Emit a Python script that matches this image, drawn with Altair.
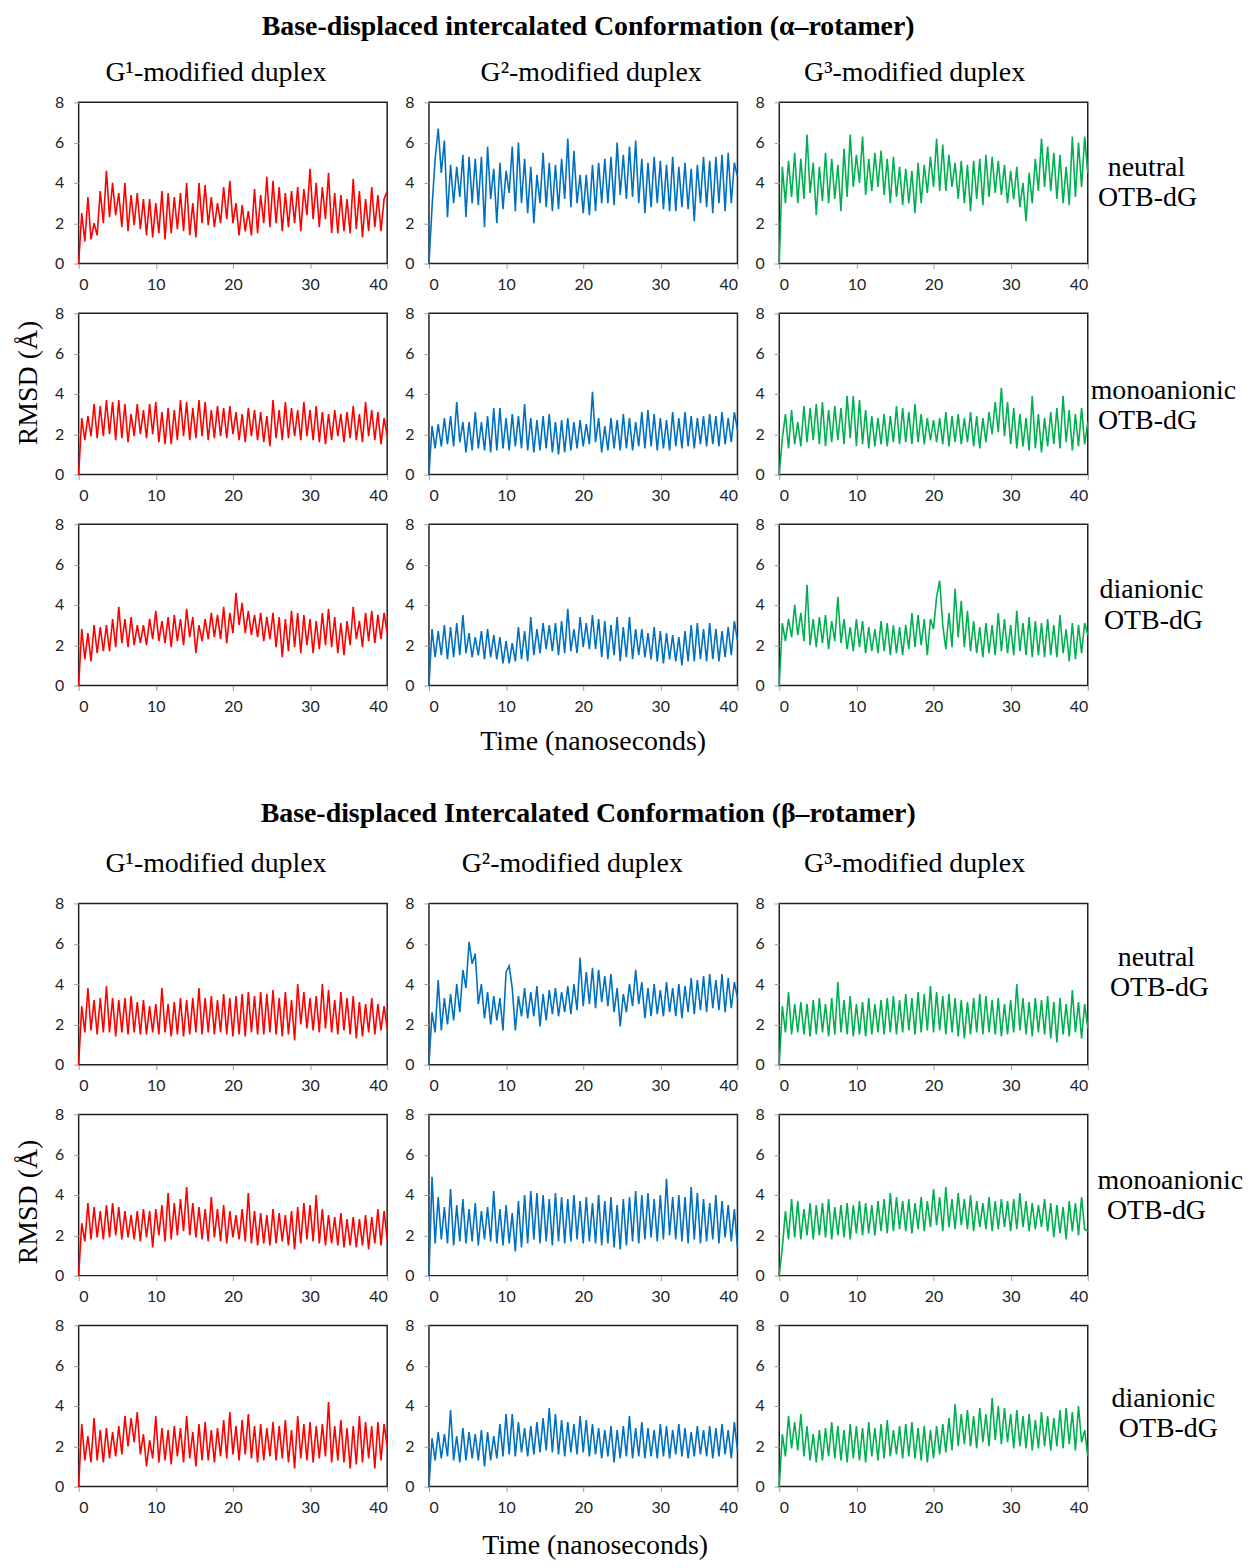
import altair as alt
import pandas as pd

TIME_STEP = 0.4  # ns between read-off samples

# ---------- alpha-rotamer (top block) ----------
A_G1_NEUTRAL = [0,
 2.5, 1.1, 3.3, 1.2, 2.0, 1.4, 3.6, 2.0, 4.6, 2.3,
 4.0, 2.4, 3.5, 1.8, 4.0, 1.6, 3.4, 1.9, 3.5, 1.7,
 3.2, 1.4, 3.2, 1.3, 3.0, 1.5, 3.6, 1.2, 3.5, 1.5,
 3.3, 1.7, 3.5, 1.6, 4.0, 1.4, 3.0, 1.3, 4.0, 2.0,
 3.9, 1.9, 3.3, 1.8, 3.0, 2.0, 3.8, 2.2, 4.1, 2.0,
 3.0, 1.4, 2.9, 1.6, 2.6, 1.4, 3.7, 1.5, 3.4, 2.0,
 4.3, 1.8, 4.1, 2.0, 3.8, 1.6, 3.5, 1.8, 3.6, 2.0,
 3.8, 1.6, 3.7, 2.4, 4.7, 2.2, 4.0, 1.8, 3.8, 2.2,
 4.5, 1.5, 3.5, 1.5, 3.4, 1.6, 3.2, 1.5, 4.2, 1.7,
 3.6, 1.3, 3.2, 1.6, 3.8, 1.8, 3.4, 1.6, 3.2, 3.6]
A_G2_NEUTRAL = [0,
 2.8, 5.2, 6.7, 4.5, 6.1, 2.3, 4.9, 3.0, 4.8, 3.3,
 5.4, 2.3, 5.3, 3.0, 5.2, 2.9, 5.3, 1.8, 5.8, 3.2,
 4.7, 2.0, 5.0, 2.7, 4.6, 3.5, 5.8, 2.6, 6.0, 3.0,
 5.2, 2.5, 4.8, 2.0, 4.4, 3.0, 5.5, 2.8, 5.0, 2.6,
 4.9, 2.7, 5.2, 3.2, 6.2, 2.8, 5.6, 3.0, 4.4, 2.5,
 4.4, 2.4, 4.9, 2.6, 5.0, 3.0, 5.2, 3.0, 5.3, 2.9,
 6.0, 3.4, 5.4, 3.2, 5.8, 3.3, 6.1, 3.0, 5.2, 2.5,
 5.0, 2.8, 5.3, 3.0, 5.1, 2.7, 4.9, 2.6, 5.3, 2.6,
 4.8, 2.8, 5.0, 2.7, 4.7, 2.1, 4.9, 3.0, 5.3, 2.8,
 5.1, 2.5, 5.3, 3.0, 5.4, 2.6, 5.5, 3.0, 5.0, 4.3]
A_G3_NEUTRAL = [0,
 4.8, 3.0, 5.1, 3.3, 5.5, 3.0, 5.2, 3.2, 6.4, 3.5,
 5.0, 2.4, 4.8, 3.1, 5.5, 3.0, 5.2, 3.2, 4.9, 2.6,
 5.7, 3.3, 6.4, 3.8, 5.4, 4.0, 6.3, 3.4, 5.2, 3.6,
 5.5, 3.8, 5.6, 3.4, 5.2, 3.0, 5.3, 3.3, 4.8, 2.9,
 4.7, 3.0, 4.6, 2.5, 5.0, 3.0, 4.9, 3.5, 5.3, 3.8,
 6.2, 3.6, 5.9, 3.6, 5.4, 3.8, 5.0, 3.2, 5.1, 3.0,
 4.9, 2.6, 5.1, 3.2, 5.2, 2.9, 5.4, 3.3, 5.3, 3.5,
 5.1, 3.4, 4.9, 3.0, 4.6, 3.2, 4.8, 2.8, 4.0, 2.1,
 4.5, 3.0, 5.2, 3.6, 6.2, 3.8, 5.8, 3.6, 5.5, 3.2,
 5.4, 3.0, 4.8, 2.9, 6.3, 3.3, 6.0, 3.8, 6.3, 4.5]
A_G1_MONO = [0,
 2.8, 1.7, 2.9, 1.9, 3.5, 1.8, 3.4, 1.9, 3.7, 2.0,
 3.6, 1.7, 3.7, 1.8, 3.5, 1.6, 3.0, 1.9, 3.5, 2.0,
 3.2, 1.8, 3.5, 2.0, 3.6, 1.6, 3.1, 1.5, 3.3, 1.5,
 3.2, 1.7, 3.7, 1.9, 3.6, 1.7, 3.3, 1.8, 3.7, 1.9,
 3.6, 1.7, 3.2, 1.8, 3.4, 1.9, 3.3, 1.8, 3.4, 2.0,
 3.1, 1.7, 3.0, 1.6, 3.3, 1.9, 3.2, 1.7, 3.1, 1.6,
 2.9, 1.4, 3.7, 1.8, 3.2, 1.7, 3.6, 1.8, 3.3, 1.9,
 3.2, 1.7, 3.6, 1.9, 3.2, 1.7, 3.4, 1.6, 3.1, 1.5,
 3.0, 1.7, 3.2, 1.9, 3.0, 1.6, 3.1, 1.8, 3.4, 1.7,
 3.0, 1.6, 3.6, 1.9, 3.2, 1.7, 3.1, 1.5, 2.8, 1.9]
A_G2_MONO = [0,
 2.4, 1.3, 2.5, 1.4, 2.8, 1.5, 2.9, 1.4, 3.6, 1.6,
 2.6, 1.1, 2.6, 1.2, 3.1, 1.3, 2.6, 1.2, 2.9, 1.1,
 3.3, 1.2, 3.3, 1.3, 2.8, 1.2, 3.0, 1.4, 2.9, 1.3,
 3.5, 1.2, 2.8, 1.1, 2.7, 1.2, 2.9, 1.3, 3.0, 1.1,
 2.6, 1.0, 2.7, 1.1, 2.8, 1.2, 2.6, 1.3, 2.7, 1.4,
 2.5, 1.5, 4.1, 1.6, 2.8, 1.1, 2.4, 1.2, 2.8, 1.3,
 2.7, 1.2, 3.0, 1.3, 2.8, 1.2, 2.6, 1.4, 3.1, 1.3,
 3.2, 1.4, 3.0, 1.2, 2.8, 1.3, 2.7, 1.2, 3.1, 1.4,
 2.8, 1.3, 3.1, 1.4, 2.9, 1.3, 2.8, 1.5, 2.9, 1.4,
 3.0, 1.5, 2.9, 1.4, 3.1, 1.5, 2.8, 1.6, 3.1, 2.2]
A_G3_MONO = [0,
 1.8, 3.0, 1.3, 3.2, 1.5, 2.6, 1.4, 3.4, 1.6, 3.3,
 1.7, 3.5, 1.5, 3.6, 1.4, 3.2, 1.6, 3.4, 1.7, 3.3,
 1.5, 3.9, 1.8, 3.9, 1.4, 3.7, 1.5, 3.2, 1.3, 2.9,
 1.4, 2.8, 1.5, 3.0, 1.4, 2.9, 1.6, 3.4, 1.5, 3.3,
 1.6, 3.1, 1.5, 3.5, 1.6, 3.0, 1.5, 2.8, 1.7, 2.7,
 1.6, 2.8, 1.5, 3.1, 1.4, 2.9, 1.6, 3.0, 1.5, 2.8,
 1.6, 3.1, 1.4, 2.9, 1.3, 2.8, 1.6, 3.1, 2.0, 3.6,
 2.1, 4.3, 1.9, 3.6, 1.5, 3.3, 1.3, 3.0, 1.4, 2.8,
 1.2, 3.9, 1.3, 3.0, 1.1, 2.8, 1.4, 3.1, 1.5, 3.3,
 1.3, 3.9, 1.6, 3.2, 1.2, 3.0, 1.4, 3.3, 1.5, 2.6]
A_G1_DI = [0,
 2.8, 1.3, 2.6, 1.2, 3.0, 1.6, 2.9, 1.7, 3.0, 1.7,
 3.3, 1.9, 3.9, 2.1, 3.3, 1.9, 3.4, 2.0, 3.0, 2.1,
 3.0, 2.0, 3.3, 2.3, 3.7, 2.2, 3.2, 2.1, 3.4, 1.9,
 3.5, 2.2, 3.3, 2.0, 3.8, 2.4, 3.4, 1.6, 3.0, 2.2,
 3.3, 2.3, 3.6, 2.4, 3.5, 2.3, 3.9, 2.1, 3.6, 2.6,
 4.6, 3.0, 4.1, 2.6, 3.7, 2.5, 3.5, 2.4, 3.6, 2.2,
 3.4, 2.3, 3.6, 1.9, 3.4, 1.4, 3.3, 1.7, 3.7, 1.9,
 3.6, 1.6, 3.5, 2.0, 3.3, 1.6, 3.2, 1.8, 3.6, 2.0,
 3.8, 1.9, 3.4, 1.6, 3.1, 1.5, 3.2, 2.0, 3.9, 2.3,
 3.2, 1.9, 3.6, 2.2, 3.7, 2.1, 3.5, 2.3, 3.6, 2.6]
A_G2_DI = [0,
 2.8, 1.4, 2.7, 1.5, 3.0, 1.3, 2.9, 1.4, 3.1, 1.5,
 3.5, 1.6, 2.6, 1.4, 2.4, 1.5, 2.7, 1.3, 2.8, 1.4,
 2.5, 1.3, 2.4, 1.1, 2.2, 1.1, 2.1, 1.2, 2.9, 1.3,
 2.7, 1.2, 3.4, 1.5, 2.8, 1.6, 3.1, 1.8, 3.0, 1.7,
 3.1, 1.5, 3.2, 1.6, 3.8, 1.7, 2.8, 1.6, 3.4, 1.9,
 3.1, 1.8, 3.5, 1.8, 3.3, 1.4, 3.2, 1.3, 3.0, 1.5,
 3.4, 1.2, 2.9, 1.4, 3.4, 1.3, 2.8, 1.5, 2.8, 1.4,
 2.6, 1.3, 2.9, 1.2, 2.7, 1.1, 2.6, 1.3, 2.5, 1.2,
 2.4, 1.0, 2.7, 1.2, 3.0, 1.2, 3.1, 1.3, 2.8, 1.2,
 3.1, 1.3, 2.8, 1.2, 2.7, 1.4, 2.9, 1.5, 3.2, 2.2]
A_G3_DI = [0,
 3.1, 2.2, 3.3, 2.4, 4.0, 2.5, 3.6, 2.2, 5.0, 2.0,
 3.3, 1.9, 3.4, 2.1, 3.5, 1.8, 3.2, 2.2, 4.4, 2.1,
 3.3, 1.8, 2.9, 1.7, 3.3, 1.9, 3.2, 1.6, 2.9, 1.7,
 2.8, 1.6, 3.2, 1.7, 3.1, 1.5, 3.0, 1.6, 2.9, 1.5,
 3.0, 1.8, 3.6, 1.9, 3.5, 2.0, 3.3, 1.5, 3.3, 2.8,
 4.4, 5.2, 3.0, 1.8, 3.6, 1.9, 4.8, 2.4, 4.2, 1.9,
 3.7, 1.7, 3.2, 1.6, 2.9, 1.4, 3.1, 1.6, 3.0, 1.5,
 3.6, 1.7, 3.3, 1.6, 3.0, 1.5, 3.7, 1.7, 3.1, 1.5,
 3.4, 1.4, 3.2, 1.5, 3.1, 1.4, 3.3, 1.5, 3.0, 1.4,
 3.5, 1.6, 2.8, 1.2, 3.1, 1.3, 3.0, 1.6, 3.1, 2.5]

# ---------- beta-rotamer (bottom block) ----------
B_G1_NEUTRAL = [0,
 2.9, 1.6, 3.8, 1.7, 3.2, 1.5, 3.3, 1.6, 3.9, 1.6,
 3.3, 1.4, 3.2, 1.6, 3.3, 1.5, 3.4, 1.6, 3.1, 1.5,
 3.2, 1.5, 2.9, 1.6, 3.0, 1.5, 3.8, 1.6, 3.0, 1.4,
 3.1, 1.5, 3.3, 1.4, 3.2, 1.5, 3.3, 1.6, 3.8, 1.5,
 3.3, 1.6, 3.4, 1.5, 3.2, 1.6, 3.5, 1.5, 3.3, 1.4,
 3.4, 1.5, 3.5, 1.4, 3.6, 1.6, 3.4, 1.5, 3.6, 1.5,
 3.5, 1.6, 3.7, 1.5, 3.3, 1.4, 3.6, 1.5, 3.2, 1.2,
 4.0, 2.0, 3.6, 1.8, 3.3, 1.7, 3.4, 1.6, 4.0, 1.8,
 3.7, 1.6, 3.2, 1.5, 3.6, 1.7, 3.3, 1.5, 3.4, 1.3,
 3.1, 1.4, 3.0, 1.6, 3.3, 1.5, 3.0, 1.7, 2.9, 1.8]
B_G2_NEUTRAL = [0,
 2.6, 1.6, 4.2, 1.7, 3.3, 2.0, 3.5, 2.2, 4.0, 2.6,
 4.7, 3.8, 6.1, 5.0, 5.5, 3.0, 4.0, 2.3, 3.6, 2.0,
 3.4, 2.2, 3.3, 1.7, 4.6, 4.9, 3.8, 1.7, 3.4, 2.4,
 3.8, 2.3, 3.6, 2.4, 3.9, 1.9, 3.5, 2.2, 3.7, 2.5,
 3.8, 2.4, 3.6, 2.6, 3.9, 2.5, 4.0, 2.7, 5.3, 2.9,
 4.6, 3.0, 4.8, 2.8, 4.7, 3.1, 4.4, 2.9, 4.5, 2.6,
 3.8, 1.9, 3.5, 2.6, 4.0, 2.9, 4.7, 3.0, 4.1, 2.3,
 3.8, 2.4, 4.0, 2.5, 3.7, 2.4, 4.1, 2.6, 3.8, 2.4,
 4.0, 2.3, 3.9, 2.6, 4.3, 2.5, 4.2, 2.7, 4.4, 2.6,
 4.5, 2.8, 4.2, 2.7, 4.5, 2.6, 4.3, 2.8, 4.1, 3.3]
B_G3_NEUTRAL = [0,
 2.9, 1.6, 3.6, 1.5, 3.0, 1.6, 3.1, 1.5, 3.0, 1.4,
 3.2, 1.5, 3.3, 1.6, 3.0, 1.4, 3.3, 1.5, 4.1, 1.6,
 3.2, 1.5, 3.4, 1.4, 3.0, 1.5, 3.1, 1.4, 3.3, 1.5,
 3.0, 1.6, 3.2, 1.5, 3.3, 1.6, 3.4, 1.5, 3.2, 1.6,
 3.5, 1.7, 3.3, 1.5, 3.6, 1.6, 3.5, 1.7, 3.9, 1.6,
 3.6, 1.7, 3.4, 1.5, 3.5, 1.6, 3.3, 1.4, 3.2, 1.3,
 3.1, 1.5, 3.3, 1.6, 3.5, 1.5, 3.4, 1.6, 3.2, 1.5,
 3.3, 1.4, 3.0, 1.5, 3.2, 1.6, 4.0, 1.7, 3.3, 1.5,
 3.1, 1.4, 3.3, 1.6, 3.2, 1.5, 3.4, 1.3, 3.1, 1.1,
 3.3, 1.5, 3.0, 1.4, 3.7, 1.6, 3.1, 1.3, 3.0, 1.8]
B_G1_MONO = [0,
 2.6, 1.7, 3.6, 1.8, 3.4, 1.9, 3.2, 1.8, 3.5, 1.9,
 3.6, 2.0, 3.4, 1.8, 3.2, 1.9, 3.0, 1.8, 3.2, 1.7,
 3.3, 1.9, 3.2, 1.4, 3.3, 2.0, 3.5, 1.7, 4.1, 1.8,
 3.6, 2.0, 3.8, 2.2, 4.4, 2.0, 3.6, 1.9, 3.4, 1.8,
 3.3, 1.7, 3.9, 1.9, 3.3, 1.7, 3.5, 1.6, 3.2, 1.9,
 3.0, 1.8, 3.3, 1.7, 4.1, 1.6, 3.2, 1.5, 3.1, 1.6,
 3.0, 1.5, 3.3, 1.6, 3.1, 1.7, 3.0, 1.5, 3.2, 1.3,
 3.4, 1.6, 3.6, 1.8, 3.5, 1.7, 4.0, 1.6, 3.3, 1.5,
 3.0, 1.6, 2.9, 1.5, 3.1, 1.4, 2.8, 1.5, 2.9, 1.4,
 2.8, 1.5, 3.0, 1.3, 2.9, 1.6, 3.3, 1.5, 3.2, 1.8]
B_G2_MONO = [0,
 4.9, 1.6, 3.9, 1.8, 3.4, 1.6, 4.3, 1.5, 3.5, 1.7,
 3.8, 1.6, 3.3, 1.7, 3.6, 1.5, 3.2, 1.8, 3.4, 1.7,
 4.2, 1.6, 3.3, 1.5, 3.5, 1.6, 3.1, 1.2, 3.7, 1.4,
 4.0, 1.6, 4.2, 1.8, 4.1, 1.6, 4.0, 1.7, 3.8, 1.5,
 4.1, 1.7, 3.9, 1.6, 3.8, 1.7, 4.0, 1.8, 3.7, 1.6,
 3.9, 1.7, 3.6, 1.6, 4.0, 1.5, 3.7, 1.6, 3.9, 1.4,
 3.5, 1.3, 3.8, 1.5, 3.9, 1.7, 4.2, 1.6, 4.0, 1.8,
 4.1, 1.9, 3.8, 1.7, 4.0, 1.8, 4.8, 2.0, 3.9, 1.8,
 4.0, 1.7, 3.9, 1.6, 4.4, 1.8, 4.1, 1.6, 3.8, 1.7,
 3.6, 1.8, 4.0, 1.6, 3.7, 1.9, 3.5, 1.7, 3.3, 1.4]
B_G3_MONO = [0,
 1.4, 3.2, 1.8, 3.8, 1.9, 3.7, 1.8, 3.3, 2.0, 3.6,
 1.8, 3.5, 2.0, 3.6, 1.9, 3.8, 1.8, 3.4, 2.0, 3.5,
 1.9, 3.6, 1.8, 3.5, 2.1, 3.7, 2.0, 3.6, 2.1, 3.5,
 2.0, 3.7, 2.2, 3.8, 2.1, 4.1, 2.2, 3.9, 2.3, 3.7,
 2.2, 3.8, 2.1, 3.6, 2.3, 3.9, 2.2, 3.7, 2.4, 4.3,
 2.5, 3.9, 2.2, 4.4, 2.4, 3.8, 2.3, 4.1, 2.5, 3.8,
 2.3, 4.0, 2.2, 3.7, 2.4, 3.6, 2.3, 3.9, 2.2, 3.7,
 2.3, 3.8, 2.4, 3.7, 2.2, 3.8, 2.3, 4.1, 2.4, 3.7,
 2.2, 3.6, 2.3, 3.5, 2.4, 3.8, 2.2, 3.6, 1.9, 3.5,
 2.1, 3.4, 1.8, 3.7, 2.2, 3.6, 2.0, 3.9, 2.3, 2.2]
B_G1_DI = [0,
 3.1, 1.3, 2.5, 1.2, 3.4, 1.3, 2.8, 1.2, 2.9, 1.4,
 2.7, 1.5, 3.0, 1.6, 3.5, 2.0, 3.4, 2.2, 3.7, 1.6,
 2.6, 1.0, 2.3, 1.4, 3.5, 1.2, 2.9, 1.3, 2.8, 1.1,
 3.0, 1.5, 2.9, 1.2, 3.5, 1.4, 2.7, 1.0, 3.1, 1.3,
 3.2, 1.3, 2.8, 1.2, 2.9, 1.5, 3.3, 1.4, 3.7, 1.6,
 3.0, 1.3, 3.3, 1.6, 3.6, 1.4, 3.0, 1.2, 3.1, 1.3,
 2.9, 1.5, 3.2, 1.3, 3.0, 1.4, 3.3, 1.2, 2.8, 0.9,
 3.5, 1.4, 3.1, 1.3, 3.2, 1.2, 3.0, 1.4, 3.1, 1.5,
 4.2, 1.2, 3.0, 1.3, 3.3, 1.2, 2.9, 0.9, 3.0, 1.1,
 3.5, 1.2, 3.2, 1.4, 3.0, 0.9, 3.2, 1.3, 3.1, 2.0]
B_G2_DI = [0,
 2.4, 1.3, 2.7, 1.4, 2.6, 1.5, 3.8, 1.3, 2.5, 1.2,
 2.9, 1.3, 2.7, 1.4, 2.6, 1.3, 2.8, 1.0, 2.7, 1.3,
 2.5, 1.4, 3.1, 1.5, 3.6, 1.6, 3.6, 1.5, 3.2, 1.7,
 2.9, 1.5, 3.0, 1.6, 3.2, 1.7, 3.4, 1.8, 3.9, 1.7,
 3.6, 1.6, 3.3, 1.5, 3.2, 1.7, 3.1, 1.6, 3.5, 1.7,
 3.3, 1.5, 3.1, 1.6, 2.9, 1.4, 2.8, 1.5, 3.0, 1.2,
 2.8, 1.4, 3.0, 1.5, 3.5, 1.4, 2.9, 1.5, 3.2, 1.4,
 2.9, 1.5, 2.8, 1.4, 3.1, 1.5, 3.0, 1.4, 2.8, 1.6,
 3.1, 1.5, 2.9, 1.4, 2.7, 1.5, 3.0, 1.6, 2.8, 1.5,
 3.0, 1.4, 2.9, 1.5, 3.1, 1.6, 2.8, 1.4, 3.2, 1.8]
B_G3_DI = [0,
 2.6, 1.5, 3.5, 1.9, 3.2, 1.8, 3.6, 1.5, 3.0, 1.3,
 2.6, 1.2, 2.8, 1.3, 2.9, 1.5, 3.2, 1.4, 3.0, 1.3,
 2.8, 1.2, 3.1, 1.4, 3.0, 1.3, 2.9, 1.2, 3.2, 1.5,
 2.9, 1.3, 3.1, 1.4, 3.3, 1.5, 2.8, 1.6, 3.0, 1.4,
 3.1, 1.5, 3.2, 1.4, 2.9, 1.3, 3.0, 1.2, 2.8, 1.4,
 3.0, 1.6, 3.1, 1.7, 3.4, 1.8, 4.1, 2.0, 3.6, 2.1,
 3.8, 2.0, 3.5, 1.9, 3.9, 2.2, 3.6, 2.0, 4.4, 2.3,
 4.0, 2.1, 3.9, 2.2, 3.6, 1.9, 3.8, 2.0, 3.5, 1.9,
 3.6, 1.8, 3.3, 1.9, 3.7, 2.0, 3.5, 1.8, 3.4, 2.0,
 3.8, 1.9, 3.9, 2.1, 3.7, 1.8, 4.0, 2.2, 2.8, 1.5]

X_TICKS = [0, 10, 20, 30, 40]
Y_TICKS = [0, 2, 4, 6, 8]
COL_TITLES = ["G\u00b9-modified duplex", "G\u00b2-modified duplex", "G\u00b3-modified duplex"]
TITLE_A = "Base-displaced intercalated Conformation (\u03b1\u2013rotamer)"
TITLE_B = "Base-displaced Intercalated Conformation  (\u03b2\u2013rotamer)"
Y_TITLE = "RMSD (\u00c5)"
X_TITLE = "Time (nanoseconds)"

RED, BLUE, GREEN = "#FF0000", "#0070C0", "#00B050"
W, H = 310, 162
GAP_SECTIONS = 119  # spacer row height between the two blocks
SERIF = "Liberation Serif"
SANS = "Lato"
FS = 28


def text(s, x, y, size=FS, weight="normal", angle=0):
    return alt.Chart(pd.DataFrame({"s": [s]})).mark_text(
        font=SERIF, fontSize=size, fontWeight=weight, color="black",
        align="center", baseline="middle", angle=angle
    ).encode(text="s:N", x=alt.value(x), y=alt.value(y))


def panel(values, color, extras=()):
    df = pd.DataFrame({"time": [i * TIME_STEP for i in range(len(values))], "rmsd": values})
    line = alt.Chart(df).mark_line(color=color, strokeWidth=1.6).encode(
        x=alt.X("time:Q", scale=alt.Scale(domain=[0, 40], nice=False),
                axis=alt.Axis(values=X_TICKS, title=None, labelPadding=8)),
        y=alt.Y("rmsd:Q", scale=alt.Scale(domain=[0, 8], nice=False),
                axis=alt.Axis(values=Y_TICKS, title=None, labelPadding=10)),
    )
    return alt.layer(line, *extras).properties(width=W, height=H)


def spacer():
    return alt.Chart(pd.DataFrame({"s": [""]})).mark_text().encode(
        text="s:N", x=alt.value(0), y=alt.value(0)
    ).properties(width=W, height=GAP_SECTIONS,
                 view=alt.ViewBackground(strokeOpacity=0, fillOpacity=0))


def section(series, title, title_y, head_y, head_x, row_lbls, ytitle_y, xtitle_pos):
    colors = [RED, BLUE, GREEN]
    cells = []
    for r in range(3):
        for c in range(3):
            ex = []
            if r == 0:
                ex.append(text(COL_TITLES[c], head_x[c], head_y))
                if c == 1:
                    ex.append(text(title, 160, title_y, size=FS, weight="bold"))
            if c == 2:
                (l1, p1), (l2, p2) = row_lbls[r]
                ex.append(text(l1, p1[0], p1[1]))
                ex.append(text(l2, p2[0], p2[1]))
            if r == 1 and c == 0:
                ex.append(text(Y_TITLE, -50, ytitle_y, angle=270))
            if r == 2 and c == 1:
                ex.append(text(X_TITLE, xtitle_pos[0], xtitle_pos[1]))
            cells.append(panel(series[r][c], colors[c], ex))
    return cells


cells_a = section(
    [[A_G1_NEUTRAL, A_G2_NEUTRAL, A_G3_NEUTRAL],
     [A_G1_MONO, A_G2_MONO, A_G3_MONO],
     [A_G1_DI, A_G2_DI, A_G3_DI]],
    TITLE_A, -76, -29, [138, 163, 136],
    [[("neutral", (369, 66)), ("OTB-dG", (370, 96))],
     [("monoanionic", (386, 78)), ("OTB-dG", (370, 108))],
     [("dianionic", (374, 66)), ("OTB-dG", (376, 97))]],
    70, (165, 219))

cells_b = section(
    [[B_G1_NEUTRAL, B_G2_NEUTRAL, B_G3_NEUTRAL],
     [B_G1_MONO, B_G2_MONO, B_G3_MONO],
     [B_G1_DI, B_G2_DI, B_G3_DI]],
    TITLE_B, -90, -40, [138, 144, 136],
    [[("neutral", (379, 55)), ("OTB-dG", (382, 85))],
     [("monoanionic", (393, 67)), ("OTB-dG", (379, 97))],
     [("dianionic", (386, 74)), ("OTB-dG", (391, 104))]],
    88, (167, 222))

all_cells = cells_a + [spacer(), spacer(), spacer()] + cells_b

chart = alt.concat(
    *all_cells, columns=3, spacing=alt.RowColnumber(row=50, column=42), bounds="flush"
).properties(
    padding={"left": 6, "top": 0, "right": 0, "bottom": 0}
).configure_view(
    stroke="#222222", strokeWidth=1.5
).configure_axis(
    grid=False, domain=False, ticks=True, tickColor="#9a9a9a", tickSize=5,
    labelFont=SANS, labelFontSize=16, labelColor="#222222"
)

chart.save("out.html", embed_options={"renderer": "svg", "actions": False})
